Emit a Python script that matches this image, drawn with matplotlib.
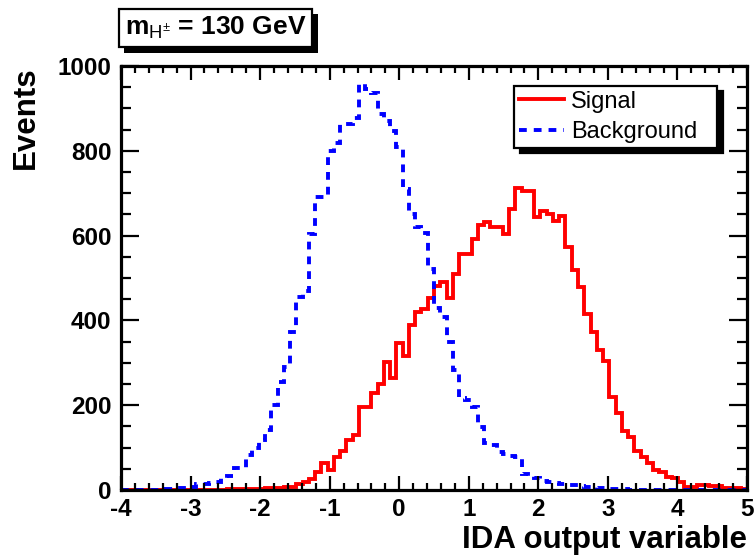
import numpy as np
import matplotlib
matplotlib.use("Agg")
import matplotlib.pyplot as plt
import matplotlib.patheffects as pe
from matplotlib.ticker import MultipleLocator

plt.rcParams['font.family'] = ['Liberation Sans', 'DejaVu Sans']
plt.rcParams['mathtext.fontset'] = 'custom'
plt.rcParams['mathtext.rm'] = 'Liberation Sans'
plt.rcParams['mathtext.bf'] = 'Liberation Sans:bold'
plt.rcParams['axes.unicode_minus'] = False

# 100 bins between -4 and 5
x_min, x_max, n_bins = -4.0, 5.0, 100

signal = [0, 0, 0, 0, 0, 0, 0, 0, 0, 0,
          0, 0, 0, 0, 0, 1, 1, 2, 2, 3,
          2, 3, 3, 4, 4, 5, 7, 8, 14, 20,
          26, 43, 63, 47, 78, 92, 118, 129, 196, 196,
          228, 251, 302, 265, 346, 316, 388, 420, 428, 452,
          482, 490, 452, 510, 557, 557, 593, 624, 631, 620,
          620, 604, 663, 713, 706, 706, 643, 659, 652, 635,
          647, 572, 518, 478, 416, 372, 329, 305, 219, 181,
          140, 125, 92, 78, 63, 47, 43, 31, 28, 20,
          7, 7, 12, 12, 10, 9, 5, 4, 4, 3]

background = [0, 0, 0, 0, 0, 0, 1, 3, 3, 4,
              5, 8, 15, 15, 17, 20, 28, 33, 52, 52,
              82, 100, 118, 141, 200, 254, 290, 372, 454, 470,
              604, 690, 690, 800, 819, 864, 864, 877, 958, 945,
              937, 886, 870, 847, 810, 710, 652, 620, 607, 522,
              430, 407, 348, 282, 216, 212, 196, 148, 111, 105,
              89, 85, 80, 78, 38, 33, 28, 22, 18, 16,
              14, 12, 12, 10, 8, 6, 5, 4, 3, 3,
              2, 1, 1, 1, 1, 1, 1, 1, 1, 0,
              0, 0, 0, 0, 0, 0, 0, 0, 0, 0]

edges = np.linspace(x_min, x_max, n_bins + 1)

fig = plt.figure(figsize=(7.55, 5.58), dpi=100)
ax = fig.add_axes([0.1603, 0.1219, 0.8291, 0.7598])

ax.stairs(signal, edges, color='#ff0000', lw=2.8, label='Signal')
ax.stairs(background, edges, color='#0000ff', lw=2.8,
          linestyle=(0, (2.0, 1.8)), label='Background')

ax.set_xlim(x_min, x_max)
ax.set_ylim(0, 1000)
ax.xaxis.set_major_locator(MultipleLocator(1))
ax.xaxis.set_minor_locator(MultipleLocator(0.2))
ax.yaxis.set_major_locator(MultipleLocator(200))
ax.yaxis.set_minor_locator(MultipleLocator(50))

for s in ax.spines.values():
    s.set_linewidth(2.3)
ax.tick_params(which='both', direction='in', top=True, right=True, width=1.6)
ax.tick_params(axis='x', which='major', length=10, pad=6)
ax.tick_params(axis='x', which='minor', length=5)
ax.tick_params(axis='y', which='major', length=13, pad=7)
ax.tick_params(axis='y', which='minor', length=7)
for lab in ax.get_xticklabels() + ax.get_yticklabels():
    lab.set_fontsize(17.5)
    lab.set_fontweight('bold')

ax.set_xlabel('IDA output variable', fontsize=22.5, fontweight='bold',
              loc='right', labelpad=3)
ax.set_ylabel('Events', fontsize=22.5, fontweight='bold', loc='top',
              labelpad=12)

leg = ax.legend(loc='upper left', bbox_to_anchor=(0.628, 0.807, 0.324, 0.146),
                mode='expand', borderaxespad=0, fontsize=17, fancybox=False,
                edgecolor='black', framealpha=1, handlelength=1.9,
                handletextpad=0.3, labelspacing=0.36, borderpad=0.2,
                shadow={'ox': 4, 'oy': -4, 'color': 'black', 'alpha': 1})
leg.get_frame().set_linewidth(1.6)

# title box with drop shadow
title = r'$\mathbf{m}_{\mathrm{H}^{\pm}}$ = 130 GeV'
t = fig.text(0.165, 0.95, title, fontsize=19, fontweight='bold',
             color='black', va='center', ha='left',
             bbox=dict(boxstyle='square,pad=0.22', fc='white', ec='black',
                       lw=1.6))
t.get_bbox_patch().set_path_effects([
    pe.SimplePatchShadow(offset=(4, -4), shadow_rgbFace='black', alpha=1),
    pe.Normal()])

fig.savefig('out.png', dpi=100)
